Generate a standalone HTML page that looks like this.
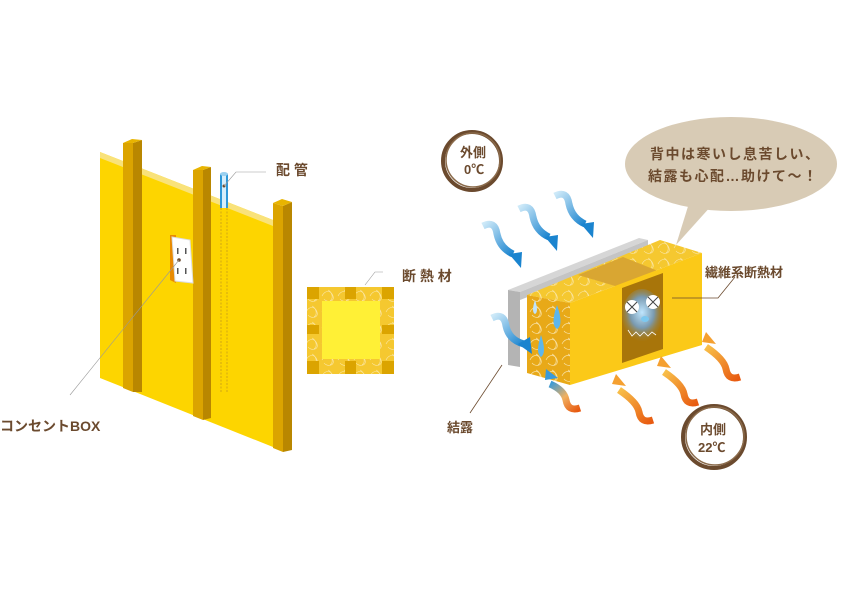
<!DOCTYPE html>
<html><head><meta charset="utf-8"><style>
html,body{margin:0;padding:0;background:#fff;}
svg{display:block}
text{font-family:"Liberation Sans","Noto Sans CJK JP",sans-serif;fill:#6b4a2e;font-weight:bold}
</style></head><body>
<svg width="842" height="595" viewBox="0 0 842 595" xmlns="http://www.w3.org/2000/svg">
<defs>
<linearGradient id="bl" x1="0" y1="0" x2="1" y2="1"><stop offset="0" stop-color="#cde9f8"/><stop offset="1" stop-color="#1a84cf"/></linearGradient>
<linearGradient id="or" x1="1" y1="1" x2="0" y2="0"><stop offset="0" stop-color="#e85a10"/><stop offset="1" stop-color="#f8c04a"/></linearGradient>
<linearGradient id="mix" x1="1" y1="1" x2="0" y2="0"><stop offset="0" stop-color="#e85a10"/><stop offset="0.5" stop-color="#f0b060"/><stop offset="1" stop-color="#3a9ad8"/></linearGradient>
<radialGradient id="glow" cx="0.5" cy="0.45" r="0.6"><stop offset="0" stop-color="#bfe6ff"/><stop offset="0.5" stop-color="#7a9ab0"/><stop offset="1" stop-color="#a8750a" stop-opacity="0"/></radialGradient>
<pattern id="fib" width="16" height="16" patternUnits="userSpaceOnUse"><rect width="16" height="16" fill="#e8a918"/><path d="M2 8c3-6 9-6 11 0s-6 7-9 3M8 2c4 2 6 8 2 11" stroke="#f8e0a0" stroke-width="0.7" fill="none"/></pattern>
<pattern id="fib2" width="16" height="16" patternUnits="userSpaceOnUse"><rect width="16" height="16" fill="#f5c830"/><path d="M2 8c3-6 9-6 11 0s-6 7-9 3M8 2c4 2 6 8 2 11" stroke="#fbe7a8" stroke-width="0.6" fill="none"/></pattern>
</defs>

<!-- LEFT WALL -->
<polygon points="100,152 273,220 273,447 100,378" fill="#fdd500"/>
<polygon points="100,152 273,220 273,226 100,158" fill="#f9e27a"/>
<polygon points="123,143 133,143 133,392 123,388" fill="#dba400"/>
<polygon points="133,143 142,140 142,392 133,392" fill="#b98700"/>
<polygon points="123,143 132,139 142,140 133,143" fill="#e8b400"/>
<polygon points="193,170 203,170 203,420 193,416" fill="#dba400"/>
<polygon points="203,170 211,167 211,418 203,420" fill="#b98700"/>
<polygon points="193,170 202,166 211,167 203,170" fill="#e8b400"/>
<polygon points="273,203 283,206 283,452 273,448" fill="#dba400"/>
<polygon points="283,206 292,202 292,450 283,452" fill="#b98700"/>
<polygon points="273,203 282,199 292,202 283,206" fill="#e8b400"/>
<polygon points="170,235 176,235 176,283 170,280" fill="#e88a00"/>
<polygon points="172,237 190,240 193,283 175,281" fill="#fff" stroke="#ddd"/>
<rect x="177" y="248" width="1.5" height="6" fill="#555"/><rect x="185" y="248" width="1.5" height="6" fill="#555"/>
<rect x="177" y="268" width="1.5" height="6" fill="#555"/><rect x="185" y="268" width="1.5" height="6" fill="#555"/>
<circle cx="179" cy="260" r="1.8" fill="#6b4a2e"/>
<rect x="220" y="174" width="8" height="34" fill="#2f98d8"/><rect x="222" y="174" width="4" height="34" fill="#d6eefb"/>
<ellipse cx="224" cy="174" rx="4" ry="2" fill="#9ad0f0"/>
<circle cx="224" cy="186" r="1.5" fill="#6b4a2e"/>
<line x1="221" y1="208" x2="221" y2="393" stroke="#b58a20" stroke-width="0.6" stroke-dasharray="2,1.5"/>
<line x1="227" y1="208" x2="227" y2="393" stroke="#b58a20" stroke-width="0.6" stroke-dasharray="2,1.5"/>
<polyline points="224,186 236,172 266,172" fill="none" stroke="#999" stroke-width="0.6"/>
<polyline points="179,260 70,395" fill="none" stroke="#999" stroke-width="0.6"/>
<text x="276" y="175" font-size="14">配 管</text>
<text x="0" y="431" font-size="14" font-weight="normal">コンセントBOX</text>

<rect x="307" y="287" width="87" height="87" fill="url(#fib2)"/>
<rect x="322" y="301" width="58" height="58" fill="#fff036"/>
<g fill="#dba400">
<rect x="307" y="287" width="12" height="12"/><rect x="345" y="287" width="11" height="12"/><rect x="382" y="287" width="12" height="12"/>
<rect x="307" y="325" width="12" height="9"/><rect x="382" y="325" width="12" height="9"/>
<rect x="307" y="361" width="12" height="13"/><rect x="345" y="361" width="11" height="13"/><rect x="382" y="361" width="12" height="13"/>
</g>
<polyline points="365,285 375,272 383,272" fill="none" stroke="#999" stroke-width="0.6"/>
<text x="402" y="281" font-size="14">断 熱 材</text>

<!-- bubble -->
<path d="M690 200 L676 245 L712 205 Z" fill="#d8cbb5"/>
<ellipse cx="731" cy="164" rx="106" ry="47" fill="#d8cbb5"/>
<text x="650" y="159" font-size="14" letter-spacing="1.5">背中は寒いし息苦しい、</text>
<text x="648" y="181" font-size="14" letter-spacing="1.5">結露も心配…助けて～！</text>

<circle cx="472" cy="161" r="29" fill="#fff" stroke="#6b4a2e" stroke-width="4"/>
<circle cx="473" cy="160" r="27" fill="none" stroke="#8a6a4a" stroke-width="1.5"/>
<text x="460" y="157" font-size="13">外側</text><text x="464" y="174" font-size="13">0℃</text>
<circle cx="714" cy="437" r="31" fill="#fff" stroke="#6b4a2e" stroke-width="4"/>
<circle cx="715" cy="436" r="29" fill="none" stroke="#8a6a4a" stroke-width="1.5"/>
<text x="700" y="434" font-size="13">内側</text><text x="698" y="452" font-size="13">22℃</text>

<polygon points="508,290 639,238 648,240 520,292" fill="#d6d6d6"/>
<polygon points="508,290 520,292 520,367 508,365" fill="#b4b4b4"/>
<polygon points="520,292 648,240 648,250 520,300" fill="#c4c4c4"/>
<polygon points="527,295 660,240 702,253 570,303" fill="url(#fib2)"/>
<polygon points="578,275 622,288 663,273 623,257" fill="#d9a632"/>
<polygon points="527,295 570,303 570,385 527,373" fill="url(#fib)"/>
<polygon points="570,303 702,253 702,345 570,385" fill="#fbc918"/>
<polygon points="622,288 663,273 663,349 622,363" fill="#a8750a"/>
<ellipse cx="642" cy="315" rx="20" ry="26" fill="url(#glow)"/>
<circle cx="632" cy="307" r="7" fill="#fff"/><circle cx="653" cy="302" r="7" fill="#fff"/>
<path d="M627 302l10 10M637 302l-10 10M648 297l10 10M658 297l-10 10" stroke="#444" stroke-width="1"/>
<ellipse cx="645" cy="319" rx="4" ry="3" fill="#7cc8f0"/>
<path d="M628 330l4 6 4-4 4 4 4-4 4 4 4-4 4 3" stroke="#fff" fill="none" stroke-width="0.8"/>
<path d="M535 300 q-4 12 0 14 q4-2 0-14z" fill="#bfe3fb"/>
<path d="M557 305 q-7 20 0 24 q7-4 0-24z" fill="#5db6ec"/>
<path d="M541 335 q-6 18 0 22 q6-4 0-22z" fill="#5db6ec"/>
<polyline points="672,298 718,298 735,277" fill="none" stroke="#6b4a2e" stroke-width="0.8"/>
<text x="705" y="277" font-size="13">繊維系断熱材</text>
<polyline points="502,365 470,413" fill="none" stroke="#6b4a2e" stroke-width="0.8"/>
<text x="447" y="432" font-size="13">結露</text>

<g fill="none" stroke="url(#bl)" stroke-width="7">
<path d="M483 226 q12 -6 14 8 q3 14 16 20"/>
<path d="M519 209 q12 -6 14 8 q3 14 16 20"/>
<path d="M555 196 q12 -6 14 8 q3 14 16 20"/>
<path d="M492 318 q12 -6 14 8 q3 14 18 18"/>
</g>
<g fill="#1a84cf">
<polygon points="509,254 521,268 522,252"/>
<polygon points="545,237 557,251 558,235"/>
<polygon points="581,224 593,238 594,222"/>
<polygon points="518,344 532,354 530,337"/>
</g>
<g fill="none" stroke-width="7">
<path d="M580 408 q-12 4 -14 -8 q-2 -10 -16 -16" stroke="url(#mix)"/>
<path d="M653 420 q-12 4 -14 -8 q-2 -10 -20 -22" stroke="url(#or)"/>
<path d="M698 402 q-12 4 -14 -8 q-2 -10 -20 -22" stroke="url(#or)"/>
<path d="M740 377 q-12 4 -14 -8 q-2 -10 -20 -22" stroke="url(#or)"/>
</g>
<polygon points="545,380 558,378 546,369" fill="#3a9ad8"/>
<g fill="#f5a030">
<polygon points="612,384 626,386 616,374"/>
<polygon points="657,366 671,368 661,356"/>
<polygon points="702,342 716,344 706,332"/>
</g>
</svg>
</body></html>
